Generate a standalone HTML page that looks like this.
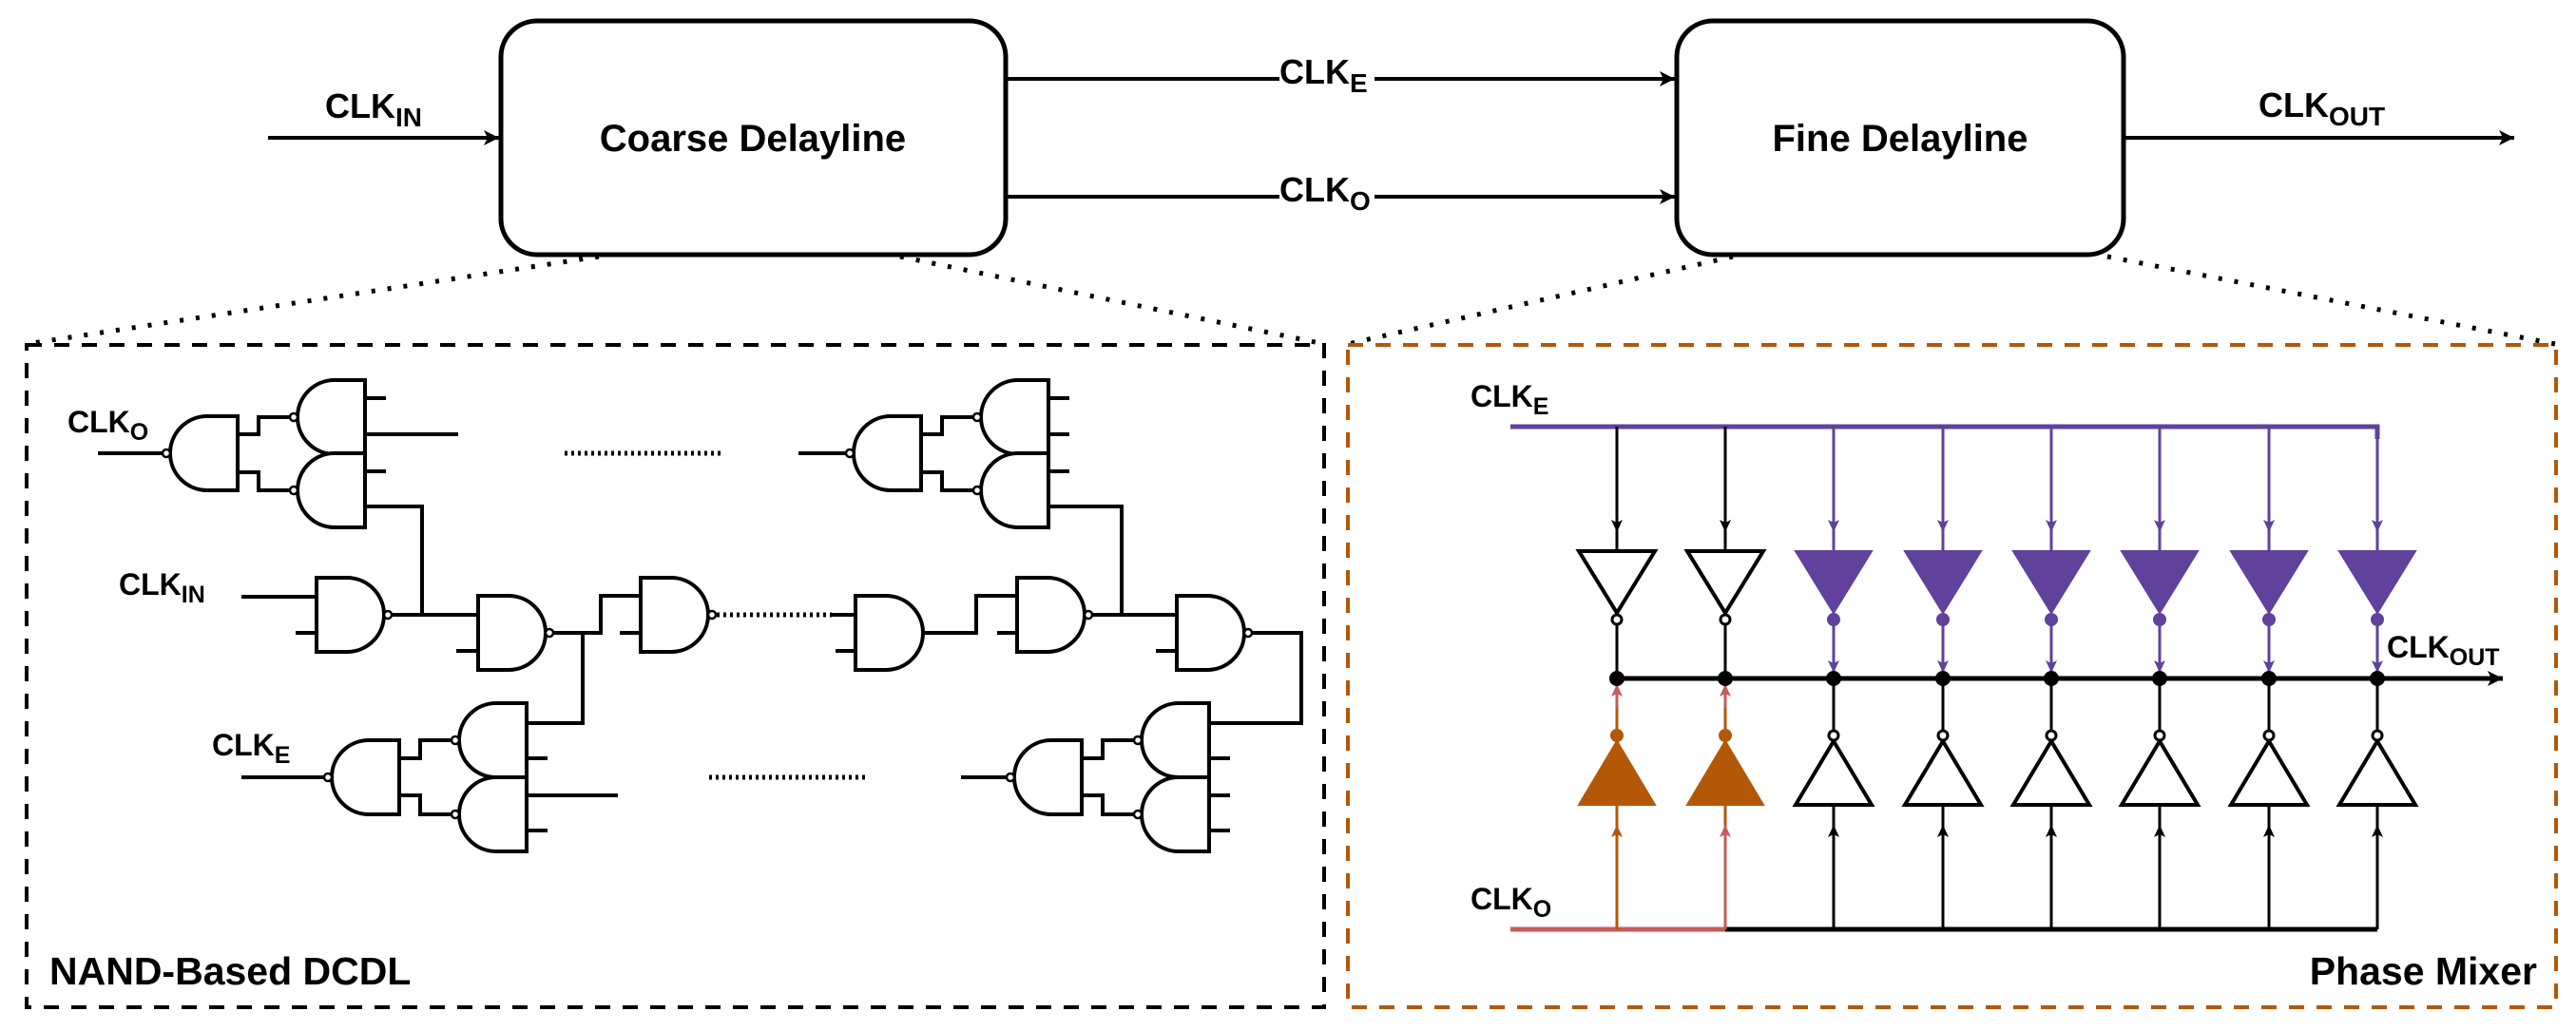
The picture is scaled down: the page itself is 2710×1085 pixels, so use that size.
<!DOCTYPE html>
<html><head><meta charset="utf-8"><style>
html,body{margin:0;padding:0;background:#fff;}
svg{display:block;}
text{font-family:"Liberation Sans",Arial,sans-serif;font-weight:bold;fill:#000;}
</style></head><body>
<svg width="2710" height="1085" viewBox="0 0 2710 1085" xmlns="http://www.w3.org/2000/svg">
<defs>
<marker id="ah" markerWidth="20" markerHeight="20" refX="18" refY="10" orient="auto" markerUnits="userSpaceOnUse"><path d="M2,2 L18,10 L2,18 L6,10 Z" fill="#000"/></marker>
<marker id="sa" markerWidth="16" markerHeight="16" refX="14" refY="8" orient="auto" markerUnits="userSpaceOnUse"><path d="M1,2 L14,8 L1,14 L4,8 Z" fill="#000"/></marker>
<marker id="sp" markerWidth="16" markerHeight="16" refX="14" refY="8" orient="auto" markerUnits="userSpaceOnUse"><path d="M1,2 L14,8 L1,14 L4,8 Z" fill="#60419b"/></marker>
<marker id="so" markerWidth="16" markerHeight="16" refX="14" refY="8" orient="auto" markerUnits="userSpaceOnUse"><path d="M1,2 L14,8 L1,14 L4,8 Z" fill="#b35806"/></marker>
<marker id="sr" markerWidth="16" markerHeight="16" refX="14" refY="8" orient="auto" markerUnits="userSpaceOnUse"><path d="M1,2 L14,8 L1,14 L4,8 Z" fill="#c65b5b"/></marker>
<g id="nR"><path d="M0,0 H32 A39,39 0 0 1 32,78 H0 Z" fill="#fff" stroke="#000" stroke-width="4"/><circle cx="75" cy="39" r="4" fill="#fff" stroke="#000" stroke-width="2.5"/></g>
<g id="aR"><path d="M0,0 H32 A39,39 0 0 1 32,78 H0 Z" fill="#fff" stroke="#000" stroke-width="4"/></g>
<g id="nL"><path d="M0,0 H-32 A39,39 0 0 0 -32,78 H0 Z" fill="#fff" stroke="#000" stroke-width="4"/><circle cx="-75" cy="39" r="4" fill="#fff" stroke="#000" stroke-width="2.5"/></g>
</defs>

<!-- Top blocks -->
<rect x="527" y="22" width="531" height="246" rx="38" fill="#fff" stroke="#000" stroke-width="5"/>
<rect x="1764" y="22" width="470" height="246" rx="38" fill="#fff" stroke="#000" stroke-width="5"/>
<text x="792" y="159" font-size="40" text-anchor="middle">Coarse Delayline</text>
<text x="1999" y="159" font-size="40" text-anchor="middle">Fine Delayline</text>

<g stroke="#000" stroke-width="4" fill="none">
<line x1="282" y1="145" x2="525" y2="145" marker-end="url(#ah)"/>
<line x1="1058" y1="83" x2="1762" y2="83" marker-end="url(#ah)"/>
<line x1="1058" y1="207" x2="1762" y2="207" marker-end="url(#ah)"/>
<line x1="2234" y1="145" x2="2645" y2="145" marker-end="url(#ah)"/>
</g>
<text x="342" y="124" font-size="36">CLK<tspan font-size="28" dy="9">IN</tspan></text>
<rect x="1346" y="60" width="100" height="46" fill="#fff"/>
<text x="1346" y="88" font-size="36">CLK<tspan font-size="28" dy="9">E</tspan></text>
<rect x="1346" y="184" width="100" height="46" fill="#fff"/>
<text x="1346" y="212" font-size="36">CLK<tspan font-size="28" dy="9">O</tspan></text>
<text x="2376" y="123" font-size="36">CLK<tspan font-size="28" dy="9">OUT</tspan></text>

<!-- dotted zoom lines -->
<g stroke="#000" stroke-width="5" fill="none" stroke-dasharray="4 13">
<line x1="630" y1="270" x2="28" y2="362"/>
<line x1="947" y1="270" x2="1393" y2="362"/>
<line x1="1823" y1="270" x2="1418" y2="362"/>
<line x1="2217" y1="270" x2="2688" y2="362"/>
</g>

<!-- dashed boxes -->
<rect x="28" y="363" width="1365" height="697" fill="none" stroke="#000" stroke-width="4" stroke-dasharray="16 13"/>
<rect x="1418" y="363" width="1271" height="697" fill="none" stroke="#b35806" stroke-width="4" stroke-dasharray="16 13"/>
<text x="52" y="1036" font-size="41">NAND-Based DCDL</text>
<text x="2669" y="1036" font-size="41" text-anchor="end">Phase Mixer</text>

<!-- NAND DCDL wiring -->
<g stroke="#000" stroke-width="4" fill="none">
<line x1="103" y1="477" x2="172" y2="477"/>
<polyline points="250,457 272,457 272,439 306,439"/>
<polyline points="250,497 272,497 272,516 306,516"/>
<line x1="384" y1="419" x2="406" y2="419"/>
<line x1="384" y1="457" x2="482" y2="457"/>
<line x1="384" y1="496" x2="406" y2="496"/>
<polyline points="384,533 444,533 444,647"/>
<line x1="840" y1="477" x2="891" y2="477"/>
<polyline points="969,457 991,457 991,439 1025,439"/>
<polyline points="969,497 991,497 991,516 1025,516"/>
<line x1="1103" y1="419" x2="1125" y2="419"/>
<line x1="1103" y1="457" x2="1125" y2="457"/>
<line x1="1103" y1="496" x2="1125" y2="496"/>
<polyline points="1103,533 1180,533 1180,647"/>
<line x1="254" y1="628" x2="333" y2="628"/>
<line x1="311" y1="666" x2="333" y2="666"/>
<line x1="411" y1="647" x2="503" y2="647"/>
<line x1="480" y1="685" x2="503" y2="685"/>
<polyline points="581,666 632,666 632,627 674,627"/>
<polyline points="613,666 613,761 554,761"/>
<line x1="652" y1="666" x2="674" y2="666"/>
<line x1="875" y1="647" x2="900" y2="647"/>
<line x1="879" y1="685" x2="900" y2="685"/>
<polyline points="971,666 1027,666 1027,627 1070,627"/>
<line x1="1049" y1="666" x2="1070" y2="666"/>
<line x1="1148" y1="647" x2="1238" y2="647"/>
<line x1="1216" y1="685" x2="1238" y2="685"/>
<polyline points="1316,666 1369,666 1369,761 1272,761"/>
<line x1="254" y1="818" x2="342" y2="818"/>
<polyline points="420,798 442,798 442,779 476,779"/>
<polyline points="420,837 442,837 442,857 476,857"/>
<line x1="554" y1="798" x2="576" y2="798"/>
<line x1="554" y1="837" x2="650" y2="837"/>
<line x1="554" y1="874" x2="576" y2="874"/>
<line x1="1011" y1="818" x2="1060" y2="818"/>
<polyline points="1138,798 1160,798 1160,779 1194,779"/>
<polyline points="1138,837 1160,837 1160,857 1194,857"/>
<line x1="1272" y1="798" x2="1294" y2="798"/>
<line x1="1272" y1="837" x2="1294" y2="837"/>
<line x1="1272" y1="874" x2="1294" y2="874"/>
</g>
<g stroke="#000" stroke-width="5" stroke-dasharray="3 4" fill="none">
<line x1="594" y1="477" x2="759" y2="477"/>
<line x1="754" y1="647" x2="875" y2="647"/>
<line x1="746" y1="818" x2="911" y2="818"/>
</g>
<use href="#nL" x="250" y="438"/>
<use href="#nL" x="384" y="400"/>
<use href="#nL" x="384" y="477"/>
<use href="#nL" x="969" y="438"/>
<use href="#nL" x="1103" y="400"/>
<use href="#nL" x="1103" y="477"/>
<use href="#nR" x="333" y="608"/>
<use href="#nR" x="503" y="627"/>
<use href="#nR" x="674" y="608"/>
<use href="#aR" x="900" y="627"/>
<use href="#nR" x="1070" y="608"/>
<use href="#nR" x="1238" y="627"/>
<use href="#nL" x="420" y="779"/>
<use href="#nL" x="554" y="740"/>
<use href="#nL" x="554" y="818"/>
<use href="#nL" x="1138" y="779"/>
<use href="#nL" x="1272" y="740"/>
<use href="#nL" x="1272" y="818"/>
<text x="71" y="455" font-size="32">CLK<tspan font-size="25" dy="8">O</tspan></text>
<text x="125" y="626" font-size="32">CLK<tspan font-size="25" dy="8">IN</tspan></text>
<text x="223" y="795" font-size="32">CLK<tspan font-size="25" dy="8">E</tspan></text>

<!-- Phase mixer -->
<text x="1547" y="428" font-size="32">CLK<tspan font-size="25" dy="8">E</tspan></text>
<text x="1547" y="957" font-size="32">CLK<tspan font-size="25" dy="8">O</tspan></text>
<text x="2511" y="692" font-size="32">CLK<tspan font-size="25" dy="8">OUT</tspan></text>
<polyline points="1589,449 2501,449 2501,462" fill="none" stroke="#60419b" stroke-width="5"/>
<line x1="1701" y1="714" x2="2633" y2="714" stroke="#000" stroke-width="5" marker-end="url(#ah)"/>
<line x1="1589" y1="978" x2="1815" y2="978" stroke="#c65b5b" stroke-width="5"/>
<line x1="1815" y1="978" x2="2501" y2="978" stroke="#000" stroke-width="5"/>

<g stroke="#000" stroke-width="3" fill="none">
<line x1="1701" y1="449" x2="1701" y2="560" marker-end="url(#sa)"/><line x1="1701" y1="560" x2="1701" y2="580"/>
<line x1="1815" y1="449" x2="1815" y2="560" marker-end="url(#sa)"/><line x1="1815" y1="560" x2="1815" y2="580"/>
<line x1="1701" y1="657" x2="1701" y2="714"/>
<line x1="1815" y1="657" x2="1815" y2="714"/>
</g>
<g stroke="#000" stroke-width="4" fill="#fff">
<polygon points="1661,580 1741,580 1701,645"/>
<polygon points="1775,580 1855,580 1815,645"/>
<circle cx="1701" cy="652" r="5" stroke-width="3"/>
<circle cx="1815" cy="652" r="5" stroke-width="3"/>
</g>
<g stroke="#60419b" stroke-width="3" fill="none">
<line x1="1929" y1="449" x2="1929" y2="560" marker-end="url(#sp)"/><line x1="1929" y1="560" x2="1929" y2="580"/>
<line x1="2044" y1="449" x2="2044" y2="560" marker-end="url(#sp)"/><line x1="2044" y1="560" x2="2044" y2="580"/>
<line x1="2158" y1="449" x2="2158" y2="560" marker-end="url(#sp)"/><line x1="2158" y1="560" x2="2158" y2="580"/>
<line x1="2272" y1="449" x2="2272" y2="560" marker-end="url(#sp)"/><line x1="2272" y1="560" x2="2272" y2="580"/>
<line x1="2387" y1="449" x2="2387" y2="560" marker-end="url(#sp)"/><line x1="2387" y1="560" x2="2387" y2="580"/>
<line x1="2501" y1="449" x2="2501" y2="560" marker-end="url(#sp)"/><line x1="2501" y1="560" x2="2501" y2="580"/>
<line x1="1929" y1="655" x2="1929" y2="708" marker-end="url(#sp)"/>
<line x1="2044" y1="655" x2="2044" y2="708" marker-end="url(#sp)"/>
<line x1="2158" y1="655" x2="2158" y2="708" marker-end="url(#sp)"/>
<line x1="2272" y1="655" x2="2272" y2="708" marker-end="url(#sp)"/>
<line x1="2387" y1="655" x2="2387" y2="708" marker-end="url(#sp)"/>
<line x1="2501" y1="655" x2="2501" y2="708" marker-end="url(#sp)"/>
</g>
<g fill="#60419b" stroke="#60419b" stroke-width="2">
<polygon points="1889,580 1969,580 1929,645"/><circle cx="1929" cy="652" r="6"/>
<polygon points="2004,580 2084,580 2044,645"/><circle cx="2044" cy="652" r="6"/>
<polygon points="2118,580 2198,580 2158,645"/><circle cx="2158" cy="652" r="6"/>
<polygon points="2232,580 2312,580 2272,645"/><circle cx="2272" cy="652" r="6"/>
<polygon points="2347,580 2427,580 2387,645"/><circle cx="2387" cy="652" r="6"/>
<polygon points="2461,580 2541,580 2501,645"/><circle cx="2501" cy="652" r="6"/>
</g>
<g stroke-width="3" fill="none">
<line x1="1701" y1="978" x2="1701" y2="868" stroke="#b35806" marker-end="url(#so)"/><line x1="1701" y1="868" x2="1701" y2="847" stroke="#b35806"/>
<line x1="1815" y1="978" x2="1815" y2="868" stroke="#c65b5b" marker-end="url(#sr)"/><line x1="1815" y1="868" x2="1815" y2="847" stroke="#b35806"/>
<line x1="1701" y1="768" x2="1701" y2="745" stroke="#b35806"/><line x1="1701" y1="745" x2="1701" y2="720" stroke="#c65b5b" marker-end="url(#sr)"/>
<line x1="1815" y1="768" x2="1815" y2="745" stroke="#b35806"/><line x1="1815" y1="745" x2="1815" y2="720" stroke="#c65b5b" marker-end="url(#sr)"/>
</g>
<g fill="#b35806" stroke="#b35806" stroke-width="2">
<polygon points="1661,847 1741,847 1701,780"/><circle cx="1701" cy="774" r="6"/>
<polygon points="1775,847 1855,847 1815,780"/><circle cx="1815" cy="774" r="6"/>
</g>
<g stroke="#000" stroke-width="3" fill="none">
<line x1="1929" y1="978" x2="1929" y2="868" marker-end="url(#sa)"/><line x1="1929" y1="868" x2="1929" y2="847"/><line x1="1929" y1="768" x2="1929" y2="714"/>
<line x1="2044" y1="978" x2="2044" y2="868" marker-end="url(#sa)"/><line x1="2044" y1="868" x2="2044" y2="847"/><line x1="2044" y1="768" x2="2044" y2="714"/>
<line x1="2158" y1="978" x2="2158" y2="868" marker-end="url(#sa)"/><line x1="2158" y1="868" x2="2158" y2="847"/><line x1="2158" y1="768" x2="2158" y2="714"/>
<line x1="2272" y1="978" x2="2272" y2="868" marker-end="url(#sa)"/><line x1="2272" y1="868" x2="2272" y2="847"/><line x1="2272" y1="768" x2="2272" y2="714"/>
<line x1="2387" y1="978" x2="2387" y2="868" marker-end="url(#sa)"/><line x1="2387" y1="868" x2="2387" y2="847"/><line x1="2387" y1="768" x2="2387" y2="714"/>
<line x1="2501" y1="978" x2="2501" y2="868" marker-end="url(#sa)"/><line x1="2501" y1="868" x2="2501" y2="847"/><line x1="2501" y1="768" x2="2501" y2="714"/>
</g>
<g stroke="#000" stroke-width="4" fill="#fff">
<polygon points="1889,847 1969,847 1929,780"/><circle cx="1929" cy="774" r="5" stroke-width="3"/>
<polygon points="2004,847 2084,847 2044,780"/><circle cx="2044" cy="774" r="5" stroke-width="3"/>
<polygon points="2118,847 2198,847 2158,780"/><circle cx="2158" cy="774" r="5" stroke-width="3"/>
<polygon points="2232,847 2312,847 2272,780"/><circle cx="2272" cy="774" r="5" stroke-width="3"/>
<polygon points="2347,847 2427,847 2387,780"/><circle cx="2387" cy="774" r="5" stroke-width="3"/>
<polygon points="2461,847 2541,847 2501,780"/><circle cx="2501" cy="774" r="5" stroke-width="3"/>
</g>
<g fill="#000">
<circle cx="1701" cy="714" r="8"/><circle cx="1815" cy="714" r="8"/><circle cx="1929" cy="714" r="8"/><circle cx="2044" cy="714" r="8"/>
<circle cx="2158" cy="714" r="8"/><circle cx="2272" cy="714" r="8"/><circle cx="2387" cy="714" r="8"/><circle cx="2501" cy="714" r="8"/>
</g>
</svg>
</body></html>
